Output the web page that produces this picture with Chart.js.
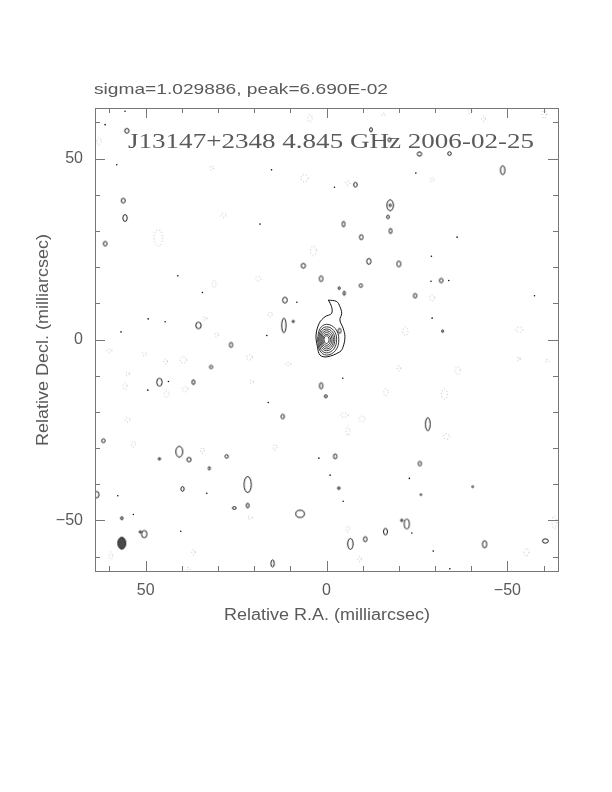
<!DOCTYPE html>
<html>
<head>
<meta charset="utf-8">
<script src="https://cdn.jsdelivr.net/npm/chart.js@4/dist/chart.umd.min.js"></script>
<style>
  html, body { margin: 0; background: #fff; }
</style>
</head>
<body>
<canvas id="map" width="612" height="792"></canvas>
<script>
// map extent (milliarcsec) and tick positions
const axisMin = -64
const axisMax = 64
const tickValues = [-60, -50, -40, -30, -20, -10, 0, 10, 20, 30, 40, 50, 60]

const titleText = 'sigma=1.029886, peak=6.690E-02'
const sourceLabel = 'J13147+2348 4.845 GHz 2006-02-25'
const xTitle = 'Relative R.A. (milliarcsec)'
const yTitle = 'Relative Decl. (milliarcsec)'

// core + jet contours, [RA, Dec] vertices in mas
const jetContour = [[-0.5,10.9],[-2.8,10.5],[-3.7,9.1],[-4.2,7.2],[-3.7,5.4],[-4.6,3.1],[-5.1,0.8],[-4.6,-2.0],[-3.7,-3.4],[-0.1,-4.8],[1.8,-4.3],[2.5,-2.0],[2.9,1.2],[2.0,4.5],[0.4,6.3],[-1.4,7.2],[-1.4,9.1],[-0.5,10.9]]
const coreContours = [
  [[2.5,0],[1.8,3.0],[0,4.2],[-2.45,3.0],[-3.4,0],[-2.45,-3.1],[0,-4.3],[1.8,-3.1],[2.5,0]],
  [[2.2,0],[1.6,2.5],[0,3.5],[-2.0,2.5],[-2.8,0],[-2.0,-2.65],[0,-3.7],[1.6,-2.65],[2.2,0]],
  [[1.9,0],[1.37,2.1],[0,2.9],[-1.65,2.1],[-2.3,0],[-1.65,-2.2],[0,-3.1],[1.37,-2.2],[1.9,0]],
  [[1.6,0],[1.15,1.7],[0,2.4],[-1.37,1.7],[-1.9,0],[-1.37,-1.87],[0,-2.6],[1.15,-1.87],[1.6,0]],
  [[1.3,0],[0.94,1.37],[0,1.9],[-1.08,1.37],[-1.5,0],[-1.08,-1.5],[0,-2.1],[0.94,-1.5],[1.3,0]],
  [[1.0,0],[0.72,1.0],[0,1.4],[-0.8,1.0],[-1.1,0],[-0.8,-1.15],[0,-1.6],[0.72,-1.15],[1.0,0]],
  [[0.7,0],[0.5,0.72],[0,1.0],[-0.5,0.72],[-0.7,0],[-0.5,-0.8],[0,-1.1],[0.5,-0.8],[0.7,0]]
]

// small positive contours: [RA, Dec, width, height] in mas
const blobs = [
  [56.2,38.4,1.1,1.3],[55.7,33.6,1.2,1.9],[61.2,26.5,1.0,1.3],[6.4,20.4,1.2,1.3],[1.5,16.8,1.0,1.6],
  [11.5,10.9,1.3,1.6],[11.8,3.9,1.2,4.0],[35.4,3.9,1.5,1.8],[55.2,57.7,1.2,1.3],[9.2,5.0,0.6,0.6],
  [-12.3,58.0,0.8,1.1],[-17.4,55.2,0.8,1.1],[-25.7,51.3,1.2,1.2],[-34.0,51.4,1.0,1.0],[-48.7,46.8,1.2,2.4],
  [-8.0,42.8,1.0,1.3],[-17.6,37.1,1.8,3.0],[-17.6,37.1,0.5,0.8],[-17.0,33.9,0.8,0.9],[-4.7,31.9,0.8,1.5],
  [-17.7,30.0,0.8,1.4],[-9.6,28.3,1.0,1.4],[-11.7,21.6,1.2,1.6],[-20.0,20.9,1.1,1.6],[-9.5,14.9,0.9,1.0],
  [-31.7,16.3,1.0,1.2],[-4.9,12.8,0.6,1.2],[-3.5,14.2,0.5,0.8],[-24.5,12.1,0.9,1.3],[-32.1,2.3,0.5,0.7],
  [-3.6,2.4,0.8,1.4],
  [26.4,-1.5,0.9,1.4],[31.9,-7.6,0.9,0.9],[46.2,-11.8,1.5,2.2],[36.8,-11.8,0.8,1.3],[1.5,-12.8,0.9,1.8],
  [0.2,-15.7,0.8,0.8],[12.1,-21.3,0.9,1.3],[61.7,-28.0,1.0,1.0],[40.7,-31.0,1.9,3.0],[38.0,-33.2,1.2,1.2],
  [46.2,-33.0,0.6,0.7],[27.6,-32.3,0.9,1.0],[32.4,-35.6,0.6,0.9],[21.8,-40.1,2.0,4.4],[39.8,-41.3,0.9,1.3],
  [63.5,-42.9,1.2,1.8],[25.5,-46.6,1.0,0.8],[21.8,-45.9,0.8,1.3],[7.3,-48.2,2.4,2.0],[56.6,-49.4,0.7,0.8],
  [50.4,-53.8,1.5,2.0],[51.5,-53.2,0.6,0.6],[14.9,-61.9,0.9,2.0],
  [-28.0,-23.4,1.3,3.6],[-2.4,-32.3,0.9,1.4],[-25.8,-34.3,0.9,1.3],[-3.4,-41.1,0.7,0.7],[-40.4,-40.7,0.5,0.5],
  [-26.1,-42.9,0.4,0.5],[-22.2,-51.0,1.4,2.7],[-20.8,-50.0,0.6,0.7],[-16.3,-53.1,1.1,1.8],[-10.7,-55.2,1.0,1.4],
  [-6.6,-56.5,1.5,3.0],[-43.7,-56.6,1.2,2.0],[-60.5,-55.7,1.6,1.2]
]

// single-pixel positive contours: [RA, Dec]
const specks = [
  [55.7,63.1],[61.2,59.4],[58.0,48.3],[18.4,31.9],[41.1,17.6],[34.3,13.0],[49.3,5.7],[44.6,4.9],[56.8,2.1],
  [16.5,1.1],[8.2,10.3],[15.2,46.9],[-24.7,46.0],[-2.2,42.1],[-36.1,28.3],[-29.0,23.0],[-28.9,16.1],
  [-29.2,5.9],[-57.5,12.1],[-33.8,16.3],[57.7,-43.2],[53.4,-48.4],[33.1,-42.5],[16.1,-17.4],[49.4,-14.0],
  [43.7,-11.6],[40.3,-53.0],[2.1,-32.8],[-4.5,-10.7],[-1.0,-37.5],[-4.6,-44.7],[-23.6,-53.5],[-29.5,-58.5],
  [-34.1,-63.4],[-22.9,-38.4]
]

// negative (dotted) contours: [RA, Dec, width, height] in mas
const negBlobs = [
  [62.9,54.8,1.2,2.0],[31.7,47.4,1.0,1.2],[28.5,34.3,1.4,1.2],[46.5,28.1,2.4,4.5],[3.6,24.5,1.6,2.6],
  [18.9,16.8,1.6,1.2],[31.1,15.4,1.0,2.2],[6.1,44.6,2.0,2.0],[4.6,61.2,1.2,2.0],[15.6,6.9,1.2,1.4],
  [30.4,1.3,1.0,1.2],[33.6,5.8,1.0,1.0],
  [-15.7,62.2,0.8,0.8],[-39.7,63.1,1.0,1.2],[-43.4,61.0,1.0,1.4],[-60.2,62.2,1.2,2.2],[-29.2,44.2,1.0,1.2],
  [-5.9,43.3,1.2,1.2],[-29.2,11.5,1.4,1.6],[-21.8,2.3,1.4,2.4],[-53.3,2.7,2.0,1.4],
  [60.1,-3.1,1.4,1.0],[50.4,-4.0,1.2,1.0],[44.5,-6.1,1.0,1.4],[39.6,-5.6,1.8,1.8],[21.3,-4.9,1.6,1.4],
  [10.6,-6.8,1.4,1.0],[55.0,-9.5,1.0,1.0],[55.7,-12.9,1.0,2.0],[44.2,-15.1,1.2,2.0],[39.1,-13.7,1.6,1.4],
  [20.7,-11.7,1.0,1.0],[55.0,-22.2,1.4,1.2],[53.4,-28.9,1.0,1.6],[34.3,-30.7,1.0,1.6],[14.2,-29.8,1.0,1.6],
  [21.1,-49.2,1.2,0.8],[59.6,-59.8,1.0,2.0],[36.8,-58.8,1.0,1.4],[38.2,-63.4,1.0,0.8],
  [-20.0,-8.0,1.0,1.4],[-36.3,-8.6,1.4,2.2],[-53.1,-5.4,0.8,1.2],[-61.0,-5.9,1.0,0.8],[-16.4,-14.6,1.2,2.0],
  [-32.6,-15.1,1.6,2.8],[-4.9,-20.9,2.2,1.2],[-9.8,-22.0,1.6,1.6],[-5.9,-25.2,1.0,2.6],[-33.2,-26.8,1.6,1.6],
  [-5.9,-52.4,1.0,1.6],[-55.3,-58.8,1.4,2.0],[-9.1,-60.7,1.0,1.4],[-63.0,-50.6,1.2,3.6]
]

// restoring beam: [RA, Dec, width, height] in mas
const beam = [[56.6, -56.3, 2.2, 3.3]]

const styleCache = {}
function ellipseStyle(ctx, kind) {
  const raw = ctx.raw
  const chart = ctx.chart
  const sx = chart.scales.x, sy = chart.scales.y
  if (!raw || !sx || !sy) return 'circle'
  const pw = Math.max(1.6, Math.abs(sx.getPixelForValue(raw.w) - sx.getPixelForValue(0)))
  const ph = Math.max(1.6, Math.abs(sy.getPixelForValue(raw.h) - sy.getPixelForValue(0)))
  const key = kind + '_' + pw.toFixed(1) + '_' + ph.toFixed(1)
  if (styleCache[key]) return styleCache[key]
  const c = document.createElement('canvas')
  c.width = Math.ceil(pw) + 3
  c.height = Math.ceil(ph) + 3
  const g = c.getContext('2d')
  g.beginPath()
  g.ellipse(c.width / 2, c.height / 2, pw / 2, ph / 2, 0, 0, Math.PI * 2)
  if (kind === 'neg') {
    g.setLineDash([0.7, 2.4])
    g.strokeStyle = '#888'
    g.lineWidth = 0.8
  } else if (kind === 'beam') {
    g.fillStyle = '#4a4a4a'
    g.fill()
    g.strokeStyle = '#222'
    g.lineWidth = 1
  } else {
    g.strokeStyle = '#000'
    g.lineWidth = 0.9
  }
  g.stroke()
  styleCache[key] = c
  return c
}

const toPoints = arr => arr.map(p => ({ x: p[0], y: p[1], w: p[2], h: p[3] }))

const datasets = []
datasets.push({
  data: toPoints(jetContour), showLine: true, tension: 0.35,
  borderColor: '#111', borderWidth: 1, pointRadius: 0
})
coreContours.forEach(c => {
  datasets.push({
    data: toPoints(c), showLine: true, tension: 0.4,
    borderColor: '#222', borderWidth: 0.9, pointRadius: 0
  })
})
datasets.push({
  data: toPoints(blobs), showLine: false, pointRadius: 2,
  pointStyle: ctx => ellipseStyle(ctx, 'pos')
})
datasets.push({
  data: toPoints(negBlobs), showLine: false, pointRadius: 2,
  pointStyle: ctx => ellipseStyle(ctx, 'neg')
})
datasets.push({
  data: toPoints(specks), showLine: false, pointRadius: 0.8,
  pointStyle: 'circle', backgroundColor: '#111', borderWidth: 0
})
datasets.push({
  data: toPoints(beam), showLine: false, pointRadius: 2,
  pointStyle: ctx => ellipseStyle(ctx, 'beam')
})

function stretchText(ctx, text, x, y, width, font, rotate) {
  ctx.save()
  ctx.font = font
  const w = ctx.measureText(text).width
  ctx.translate(x, y)
  if (rotate) ctx.rotate(-Math.PI / 2)
  ctx.scale(width / w, 1)
  ctx.textAlign = 'left'
  ctx.textBaseline = 'middle'
  ctx.fillText(text, 0, 0)
  ctx.restore()
}

const framePlugin = {
  id: 'frame',
  afterDatasetsDraw(chart) {
    const ctx = chart.ctx
    const { left, right, top, bottom } = chart.chartArea
    const sx = chart.scales.x, sy = chart.scales.y
    ctx.save()
    ctx.strokeStyle = '#777'
    ctx.lineWidth = 1
    ctx.strokeRect(Math.round(left) + 0.5, Math.round(top) + 0.5, Math.round(right - left), Math.round(bottom - top))
    ctx.beginPath()
    tickValues.forEach(v => {
      const len = v % 50 === 0 ? 10 : 5
      const px = Math.round(sx.getPixelForValue(v)) + 0.5
      ctx.moveTo(px, bottom); ctx.lineTo(px, bottom - len)
      ctx.moveTo(px, top); ctx.lineTo(px, top + len)
      const py = Math.round(sy.getPixelForValue(v)) + 0.5
      ctx.moveTo(left, py); ctx.lineTo(left + len, py)
      ctx.moveTo(right, py); ctx.lineTo(right - len, py)
    })
    ctx.stroke()

    ctx.fillStyle = '#5a5a5a'
    stretchText(ctx, titleText, 94, 90, 294, '15px "Liberation Sans"')
    stretchText(ctx, sourceLabel, 128, 142.5, 406, '22px "Liberation Serif"')
    stretchText(ctx, xTitle, 224, 616, 206, '16px "Liberation Sans"')
    stretchText(ctx, yTitle, 44, 446, 212, '16px "Liberation Sans"', true)
    ctx.restore()
  }
}

const tickLabel = v => (v < 0 ? '\u2212' + (-v) : '' + v)

new Chart(document.getElementById('map'), {
  type: 'scatter',
  data: { datasets },
  options: {
    responsive: false,
    animation: false,
    events: [],
    layout: { padding: { left: 25, right: 54, top: 108, bottom: 161 } },
    plugins: { legend: { display: false }, tooltip: { enabled: false } },
    scales: {
      x: {
        type: 'linear', min: axisMin, max: axisMax, reverse: true,
        afterFit: s => { s.height = 60 },
        grid: { display: false, drawTicks: false },
        border: { display: false },
        ticks: {
          stepSize: 50, includeBounds: false, padding: 10, maxRotation: 0,
          color: '#5a5a5a', font: { family: 'Liberation Sans', size: 16 },
          callback: tickLabel
        }
      },
      y: {
        type: 'linear', min: axisMin, max: axisMax,
        afterFit: s => { s.width = 70 },
        grid: { display: false, drawTicks: false },
        border: { display: false },
        ticks: {
          stepSize: 50, includeBounds: false, padding: 12,
          color: '#5a5a5a', font: { family: 'Liberation Sans', size: 16 },
          callback: tickLabel
        }
      }
    }
  },
  plugins: [framePlugin]
})
</script>
</body>
</html>
